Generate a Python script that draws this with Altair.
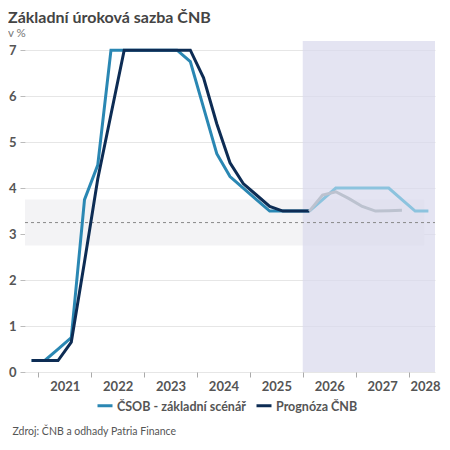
import altair as alt
import pandas as pd

# ---- data (quarterly) ----
hist_quarters = ["2020Q4", "2021Q1", "2021Q2", "2021Q3", "2021Q4",
                 "2022Q1", "2022Q2", "2022Q3", "2022Q4",
                 "2023Q1", "2023Q2", "2023Q3", "2023Q4",
                 "2024Q1", "2024Q2", "2024Q3", "2024Q4",
                 "2025Q1", "2025Q2", "2025Q3", "2025Q4", "2026Q1"]
csob_hist = [0.25, 0.25, 0.5, 0.75, 3.75,
             4.5, 7.0, 7.0, 7.0,
             7.0, 7.0, 7.0, 6.75,
             5.75, 4.75, 4.25, 4.0,
             3.75, 3.5, 3.5, 3.5, 3.5]
cnb_hist = [0.25, 0.25, 0.25, 0.65, 2.4,
            4.2, 5.6, 7.0, 7.0,
            7.0, 7.0, 7.0, 7.0,
            6.4, 5.4, 4.55, 4.1,
            3.85, 3.6, 3.5, 3.5, 3.5]

csob_fcst_quarters = ["2026Q1", "2026Q2", "2026Q3", "2026Q4",
                      "2027Q1", "2027Q2", "2027Q3", "2027Q4",
                      "2028Q1", "2028Q2"]
csob_fcst = [3.5, 3.75, 4.0, 4.0, 4.0, 4.0, 4.0, 3.75, 3.5, 3.5]

cnb_fcst_quarters = ["2026Q1", "2026Q2", "2026Q3", "2026Q4",
                     "2027Q1", "2027Q2", "2027Q3", "2027Q4"]
cnb_fcst = [3.5, 3.85, 3.92, 3.77, 3.6, 3.5, 3.51, 3.52]

series_names = ["ČSOB - základní scénář", "Prognóza ČNB"]
year_ticks = [2021, 2022, 2023, 2024, 2025, 2026, 2027, 2028]

x_domain = [2020.75, 2028.5]
y_domain = [0, 7.2]
forecast_span = [2026, 2028.5]
neutral_band = [2.75, 3.75]
neutral_band_x = [2020.75, 2028.3]
neutral_rate = [3.25]


def qpos(q):
    y, k = q.split("Q")
    return int(y) + (int(k) - 0.5) / 4


rows = []
for q, v in zip(hist_quarters, csob_hist):
    rows.append({"t": qpos(q), "v": v, "s": series_names[0], "phase": "hist"})
for q, v in zip(hist_quarters, cnb_hist):
    rows.append({"t": qpos(q), "v": v, "s": series_names[1], "phase": "hist"})
for q, v in zip(csob_fcst_quarters, csob_fcst):
    rows.append({"t": qpos(q), "v": v, "s": series_names[0], "phase": "fcst"})
for q, v in zip(cnb_fcst_quarters, cnb_fcst):
    rows.append({"t": qpos(q), "v": v, "s": series_names[1], "phase": "fcst"})
df = pd.DataFrame(rows)

FONT = "Lato"
TEAL, NAVY = "#2a87b3", "#0d2c54"
LTEAL, LGRAY = "#8cc3de", "#bcc2cf"

x_scale = alt.Scale(domain=x_domain, nice=False, zero=False)
y_scale = alt.Scale(domain=y_domain, nice=False)

x_axis = alt.Axis(values=year_ticks, format="d",
                  labelOffset=alt.expr("datum.value === 2028 ? 16.5 : 26.5"),
                  grid=False, domain=False, tickSize=5, tickColor="#aaaaaa",
                  labelFontSize=13, labelFontWeight="bold", labelColor="#555555",
                  labelPadding=3, labelFont=FONT, labelBound=False,
                  title="Zdroj: ČNB a odhady Patria Finance", titleAnchor="start",
                  titleAlign="left", titleX=-13, titleY=62, titleBaseline="alphabetic",
                  titleFontSize=10.5, titleFontWeight="normal", titleColor="#555555",
                  titleFont=FONT)
y_axis = alt.Axis(values=list(range(0, 8)), grid=True, gridColor="#e6e6e6",
                  domain=False, tickSize=5, tickColor="#bbbbbb",
                  labelFontSize=13, labelFontWeight="bold", labelColor="#555555",
                  labelPadding=4, labelFont=FONT, title=None)

shade_df = pd.DataFrame({"x": [forecast_span[0]], "x2": [forecast_span[1]],
                         "y": [y_domain[0]], "y2": [y_domain[1]]})
band_df = pd.DataFrame({"x": [neutral_band_x[0]], "x2": [neutral_band_x[1]],
                        "y": [neutral_band[0]], "y2": [neutral_band[1]]})
rate_df = pd.DataFrame({"x": [x_domain[0]], "x2": [x_domain[1]], "y": neutral_rate})

band = alt.Chart(band_df).mark_rect(color="#f3f3f5").encode(
    x=alt.X("x:Q", scale=x_scale, axis=x_axis), x2="x2:Q",
    y=alt.Y("y:Q", scale=y_scale, axis=y_axis), y2="y2:Q")
shade = alt.Chart(shade_df).mark_rect(color="#d8d8ec", opacity=0.7).encode(
    x=alt.X("x:Q", scale=x_scale), x2="x2:Q",
    y=alt.Y("y:Q", scale=y_scale), y2="y2:Q")
rate = alt.Chart(rate_df).mark_rule(color="#888888", strokeDash=[3, 3], strokeWidth=1).encode(
    x=alt.X("x:Q", scale=x_scale), x2="x2:Q", y=alt.Y("y:Q", scale=y_scale))

legend_common = dict(orient="none", direction="horizontal", title=None,
                     legendX=71, legendY=357, symbolSize=225, symbolStrokeWidth=3,
                     labelFontSize=12.5, labelFontWeight="bold", labelFont=FONT,
                     labelOffset=3, columnPadding=4)

hist = alt.Chart(df).transform_filter(alt.datum.phase == "hist").mark_line(
    strokeWidth=3, strokeJoin="miter").encode(
    x=alt.X("t:Q", scale=x_scale), y=alt.Y("v:Q", scale=y_scale),
    color=alt.Color("s:N", scale=alt.Scale(domain=series_names, range=[TEAL, NAVY]),
                    legend=alt.Legend(symbolType="M-1,-0.2H1", labelColor="#555555",
                                      **legend_common)))
fcst = alt.Chart(df).transform_filter(alt.datum.phase == "fcst").mark_line(
    strokeWidth=3, strokeJoin="miter").encode(
    x=alt.X("t:Q", scale=x_scale), y=alt.Y("v:Q", scale=y_scale),
    stroke=alt.Stroke("s:N", scale=alt.Scale(domain=series_names, range=[LTEAL, LGRAY]),
                      legend=alt.Legend(symbolType="M-1,0.2H1", labelColor="transparent",
                                        **legend_common)))

chart = alt.layer(band, shade, rate, hist, fcst).properties(
    width=410, height=331,
    autosize=alt.AutoSizeParams(type="none"),
    padding={"left": 17, "top": 33, "right": 7, "bottom": 70},
    title=alt.TitleParams(text="Základní úroková sazba ČNB", subtitle="v %",
                          anchor="start", frame="group", dx=-17, offset=2,
                          font=FONT, fontSize=16, fontWeight="bold", color="#444444",
                          subtitleFont=FONT, subtitleFontSize=11.5, subtitleColor="#777777",
                          subtitlePadding=2),
).configure_view(stroke=None)

chart.save("out.html", embed_options={"renderer": "svg", "actions": False})
